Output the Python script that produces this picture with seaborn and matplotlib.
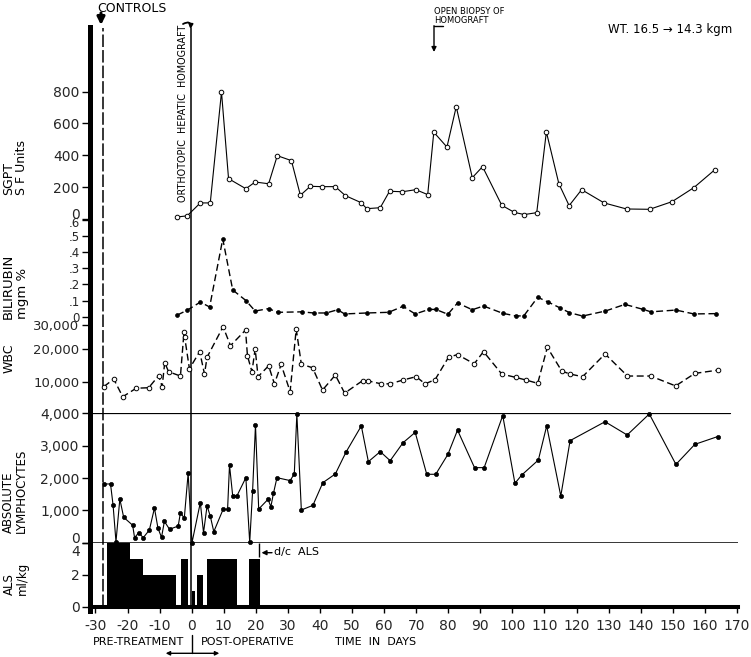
import numpy as np
import matplotlib
matplotlib.use("Agg")
import matplotlib.pyplot as plt
import seaborn as sns
from matplotlib.transforms import Affine2D, ScaledTranslation
from matplotlib.lines import Line2D
from matplotlib.patches import FancyArrowPatch

# ---------------- data ----------------
sgpt_day = [-4.5, -1.4, 2.7, 5.8, 9.3, 11.5, 16.9, 19.8, 24.0, 26.7, 31.1, 33.9, 37.0, 40.6,
            44.8, 47.9, 52.8, 54.6, 58.8, 61.7, 65.7, 69.9, 73.6, 75.5, 79.6, 82.5, 87.5, 90.7,
            96.7, 100.6, 103.7, 107.6, 110.6, 114.5, 117.7, 121.6, 128.6, 135.6, 142.8, 149.8,
            156.6, 163.2]
sgpt_val = [14, 21, 102, 102, 797, 254, 191, 233, 222, 398, 367, 150, 206, 204,
            204, 148, 104, 66, 72, 175, 172, 185, 154, 545, 452, 705, 260, 329,
            87, 43, 29, 41, 547, 222, 85, 185, 102, 64, 62, 110,
            198, 311]

bili_day = [-4.5, -1.4, 2.7, 5.6, 9.7, 12.8, 16.9, 19.8, 24.0, 26.8, 34.4, 38.0, 42.0, 45.5,
            47.7, 54.6, 61.4, 65.9, 69.7, 74.0, 76.1, 79.9, 82.9, 87.5, 91.0, 97.0, 101.2,
            103.6, 107.9, 111.2, 114.9, 117.8, 121.9, 129.0, 135.1, 140.8, 143.2, 151.0,
            156.6, 163.5]
bili_val = [0.01, 0.04, 0.09, 0.06, 0.48, 0.165, 0.10, 0.035, 0.05, 0.027, 0.03, 0.023, 0.023, 0.043,
            0.017, 0.023, 0.027, 0.064, 0.017, 0.045, 0.045, 0.015, 0.085, 0.043, 0.066, 0.021, 0.004,
            0.006, 0.12, 0.09, 0.054, 0.025, 0.004, 0.035, 0.076, 0.045, 0.03, 0.041,
            0.017, 0.019]

wbc_day = [-27.4, -24.3, -21.5, -17.3, -13.4, -10.3, -9.2, -8.4, -7.2, -3.5, -2.4, -2.2, -0.7,
           2.5, 4.0, 4.8, 9.8, 12.1, 16.8, 17.4, 18.8, 19.8, 20.7, 24.0, 25.8, 27.9, 30.7, 32.6,
           34.2, 37.7, 40.8, 44.8, 47.7, 53.3, 55.1, 59.1, 61.9, 65.9, 70.0, 72.8, 75.9, 80.1,
           82.9, 88.1, 91.0, 96.7, 101.0, 104.2, 107.9, 110.9, 115.4, 118.0, 121.9, 128.9,
           135.9, 143.1, 150.9, 156.9, 164.2]
wbc_val = [9150, 11000, 7200, 8850, 8950, 12000, 9150, 16000, 13200, 11900, 27000, 25200, 14100,
           19300, 12500, 17600, 29300, 21500, 27900, 18000, 13200, 20200, 11700, 15000, 9700, 15400, 8200, 28300,
           15500, 14400, 8500, 12200, 7900, 10500, 10400, 9700, 9700, 10700, 11700, 9700, 10800, 17600,
           18400, 15600, 19300, 12500, 11500, 10700, 9800, 20800, 13400, 12500, 11700, 18600,
           11900, 11900, 9300, 12700, 13700]

lym_day = [-27.4, -25.3, -24.5, -23.6, -22.4, -21.2, -18.4, -17.8, -16.5, -15.1, -13.2, -11.6, -10.5,
           -9.4, -8.5, -6.9, -4.2, -3.5, -2.3, -1.1, 0.1, 2.7, 3.7, 4.8, 5.8, 6.9, 9.8, 11.2, 11.8,
           12.8, 14.1, 16.9, 18.1, 19.0, 19.9, 20.9, 23.8, 24.7, 25.5, 26.6, 30.7, 32.0, 32.8, 34.2,
           37.8, 40.9, 44.8, 48.1, 52.9, 55.1, 58.8, 61.9, 65.9, 69.7, 73.3, 76.1, 79.9, 82.9, 88.2,
           91.2, 97.0, 100.8, 102.9, 108.1, 110.7, 115.1, 118.0, 128.9, 135.8, 142.7, 151.0, 156.9, 164.0]
lym_val = [1815, 1815, 1156, 30, 1350, 785, 540, 155, 310, 155, 390, 1070, 445,
           165, 660, 415, 515, 930, 755, 2145, 0, 1240, 310, 1135, 825, 340, 1030, 1030, 2400,
           1445, 1445, 2010, 10, 1600, 3640, 1040, 1340, 1115, 1525, 2010, 1920, 2125, 3980, 1010,
           1155, 1855, 2125, 2795, 3610, 2505, 2815, 2535, 3090, 3410, 2115, 2115, 2730, 3480, 2320,
           2320, 3930, 1835, 2090, 2555, 3610, 1445, 3155, 3740, 3330, 3980, 2420, 3040, 3280]

als_start = [-26.4, -19.1, -15.3, -3.4, 0.2, 1.7, 4.8, 17.9]
als_end = [-19.1, -15.3, -5.0, -1.1, 1.0, 3.4, 14.2, 21.3]
als_dose = [4, 3, 2, 3, 1, 2, 3, 3]

x_ticks = list(range(-30, 171, 10))
x_labels = [str(v) for v in x_ticks]
sgpt_ticks = [0, 200, 400, 600, 800]
bili_ticks = [0, 0.1, 0.2, 0.3, 0.4, 0.5, 0.6]
bili_labels = ["0", ".1", ".2", ".3", ".4", ".5", ".6"]
wbc_ticks = [10000, 20000, 30000]
wbc_labels = ["10,000", "20,000", "30,000"]
lym_ticks = [0, 1000, 2000, 3000, 4000]
lym_labels = ["0", "1,000", "2,000", "3,000", "4,000"]
als_ticks = [0, 2, 4]

controls_day = -27.5
operation_day = -0.3
biopsy_day = 75.5
dc_als_day = 21.1

# ---------------- style ----------------
sns.set_style("white")
plt.rcParams["font.family"] = ["DejaVu Sans"]
plt.rcParams["axes.unicode_minus"] = False
plt.rcParams["lines.scale_dashes"] = False

W, H = 751, 657
fig = plt.figure(figsize=(W / 100, H / 100), dpi=100)
fig.patch.set_facecolor("white")
PX = Affine2D().scale(1 / W, -1 / H).translate(0, 1) + fig.transFigure

XL, XR = 90.0, 737.5
XMIN, XMAX = -31.7, 170.2


def add_panel(top_px, bot_px, labelsize=10):
    ax = fig.add_axes([XL / W, 1 - bot_px / H, (XR - XL) / W, (bot_px - top_px) / H])
    ax.set_xlim(XMIN, XMAX)
    ax.patch.set_alpha(0)
    for s in ax.spines.values():
        s.set_visible(False)
    ax.tick_params(axis="y", direction="out", length=6, width=1.0, pad=1.5,
                   labelsize=labelsize, color="black", left=True)
    ax.tick_params(axis="x", bottom=False, labelbottom=False)
    ax.set_xlabel("")
    ax.set_ylabel("")
    ax.grid(False)
    return ax


def shift_label(ax, idx, dy_px=0.0, va=None):
    lab = ax.yaxis.get_major_ticks()[idx].label1
    if va is not None:
        lab.set_verticalalignment(va)
    if dy_px:
        lab.set_transform(lab.get_transform() +
                          ScaledTranslation(0, -dy_px / 100.0, fig.dpi_scale_trans))


# full-height frame axes (thick left spine + event lines)
axf = add_panel(27, 611)
axf.set_ylim(0, 1)
axf.set_yticks([])
axf.spines["left"].set_visible(True)
axf.spines["left"].set_linewidth(3.6)
axf.spines["left"].set_color("black")
y_lo = (611 - 607) / (611 - 27)
y_hi = 1 - (28 - 27) / (611 - 27)
axf.axvline(controls_day, ymin=y_lo, ymax=y_hi, color="black", lw=1.1,
            linestyle=(0, (9, 2.2)))
axf.axvline(operation_day, ymin=y_lo, ymax=y_hi, color="black", lw=1.1)

# SGPT
ax_sg = add_panel(91.5, 219.2)
ax_sg.set_ylim(0, 800)
ax_sg.set_yticks(sgpt_ticks, labels=[str(v) for v in sgpt_ticks])
sns.lineplot(x=sgpt_day, y=sgpt_val, ax=ax_sg, color="black", linewidth=0.8, marker="o",
             markersize=3.3, markerfacecolor="white", markeredgecolor="black",
             markeredgewidth=0.7, estimator=None, sort=False, errorbar=None, clip_on=False)

# Bilirubin
ax_bi = add_panel(219.5, 316.7, labelsize=8.5)
ax_bi.set_ylim(0, 0.6)
ax_bi.set_yticks(bili_ticks, labels=bili_labels)
sns.lineplot(x=bili_day, y=bili_val, ax=ax_bi, color="black", linewidth=1.0, marker="o",
             markersize=2.8, markerfacecolor="black", markeredgecolor="black",
             markeredgewidth=0.5, linestyle=(0, (5, 2.6)), estimator=None, sort=False,
             errorbar=None, clip_on=False)

# WBC (hand-drawn, non-uniform scale)
WB_T = [4000, 10000, 20000, 30000]
WB_P = [0.0, 31.0, 64.0, 88.3]
ax_wb = add_panel(325.0, 413.3, labelsize=9.5)
ax_wb.set_yscale("function", functions=(lambda v: np.interp(v, WB_T, WB_P),
                                        lambda p: np.interp(p, WB_P, WB_T)))
ax_wb.set_ylim(4000, 30000)
ax_wb.set_yticks(wbc_ticks, labels=wbc_labels)
ax_wb.yaxis.set_minor_locator(matplotlib.ticker.NullLocator())
sns.lineplot(x=wbc_day, y=wbc_val, ax=ax_wb, color="black", linewidth=1.0, marker="o",
             markersize=3.3, markerfacecolor="white", markeredgecolor="black",
             markeredgewidth=0.7, linestyle=(0, (5, 2.6)), estimator=None, sort=False,
             errorbar=None, clip_on=False)

# Absolute lymphocytes
ax_ly = add_panel(413.3, 542.7)
ax_ly.set_ylim(0, 4000)
ax_ly.set_yticks(lym_ticks, labels=lym_labels)
ax_ly.axhline(4000, xmin=0, xmax=(730 - XL) / (XR - XL), color="black", lw=0.9)
ax_ly.axhline(0, color="black", lw=1.1)
sns.lineplot(x=lym_day, y=lym_val, ax=ax_ly, color="black", linewidth=0.8, marker="o",
             markersize=3.0, markerfacecolor="black", markeredgecolor="black",
             markeredgewidth=0.5, estimator=None, sort=False, errorbar=None, clip_on=False)

# ALS
ax_al = add_panel(543.0, 607.0)
ax_al.set_ylim(0, 4)
ax_al.set_yticks(als_ticks, labels=[str(v) for v in als_ticks])
ax_al.bar(als_start, als_dose, width=np.subtract(als_end, als_start), align="edge",
          color="black", linewidth=0)
ax_al.spines["bottom"].set_visible(True)
ax_al.spines["bottom"].set_linewidth(2.9)
ax_al.spines["bottom"].set_color("black")
ax_al.set_xticks(x_ticks, labels=x_labels)
ax_al.tick_params(axis="x", bottom=True, labelbottom=True, direction="out", length=4.5,
                  width=1.0, pad=4, labelsize=10, color="black")
ax_al.vlines(dc_als_day, 3.15, 4, color="black", lw=1.0)

# crowded tick labels: nudge as in the reference (after all tick_params calls)
shift_label(ax_sg, 0, dy_px=-6.0)      # SGPT "0" sits above its line
shift_label(ax_bi, 6, dy_px=2.5)       # ".6"
shift_label(ax_ly, 0, dy_px=-5.0)      # lymphocyte "0" above the line
shift_label(ax_al, 2, dy_px=8.0)       # ALS "4" below the line

# ---------------- annotations (figure pixel coordinates) ----------------
def ftext(x, y, s, **kw):
    fig.text(x, y, s, transform=PX, color="black", **kw)


def farrow(p0, p1, style="-|>", ms=8, lw=1.0):
    fig.add_artist(FancyArrowPatch(p0, p1, transform=PX, arrowstyle=style,
                                   mutation_scale=ms, lw=lw, color="black",
                                   shrinkA=0, shrinkB=0))


ftext(132, 8.5, "CONTROLS", ha="center", va="center", fontsize=9)
farrow((101, 13), (101, 25), ms=11, lw=2.2)

ftext(183.5, 202, "ORTHOTOPIC  HEPATIC  HOMOGRAFT", rotation=90, ha="center",
      va="bottom", fontsize=6.9)
fig.add_artist(FancyArrowPatch((183, 24), (190.5, 29), transform=PX, arrowstyle="-|>",
                               connectionstyle="arc3,rad=-0.9", mutation_scale=6, lw=1.3,
                               color="black", shrinkA=0, shrinkB=0))

ftext(434, 7.3, "OPEN BIOPSY OF\nHOMOGRAFT", ha="left", va="top", fontsize=6,
      linespacing=1.0)
fig.add_artist(Line2D([443, 434], [25.7, 25.7], transform=PX, color="black", lw=1.0))
farrow((434, 25.7), (434, 52), ms=7, lw=1.0)

ftext(608, 29.5, "WT. 16.5 \u2192 14.3 kgm", ha="left", va="center", fontsize=8.5)

farrow((272, 552.7), (261.5, 552.7), ms=7, lw=1.0)
ftext(274, 552.5, "d/c  ALS", ha="left", va="center", fontsize=8)

ftext(93, 642, "PRE-TREATMENT", ha="left", va="center", fontsize=8)
ftext(201, 642, "POST-OPERATIVE", ha="left", va="center", fontsize=8)
ftext(335, 642, "TIME  IN  DAYS", ha="left", va="center", fontsize=8)
fig.add_artist(Line2D([191.7, 191.7], [635, 653.3], transform=PX, color="black", lw=1.0))
farrow((165.7, 653.3), (219.3, 653.3), style="<|-|>", ms=6, lw=1.0)

# panel titles
ftext(15, 195, "SGPT\nS F Units", rotation=90, ha="center", va="bottom",
      multialignment="left", fontsize=9, linespacing=1.05)
ftext(15.5, 319, "BILIRUBIN\nmgm %", rotation=90, ha="center", va="bottom",
      multialignment="left", fontsize=9.5, linespacing=1.05)
ftext(9, 373, "WBC", rotation=90, ha="center", va="bottom", fontsize=9)
ftext(15, 533, "ABSOLUTE\nLYMPHOCYTES", rotation=90, ha="center", va="bottom",
      multialignment="left", fontsize=8.5, linespacing=1.05)
ftext(16, 595, "ALS\nml/kg", rotation=90, ha="center", va="bottom",
      multialignment="left", fontsize=8.5, linespacing=1.05)

fig.savefig("out.png", dpi=100, facecolor="white")
